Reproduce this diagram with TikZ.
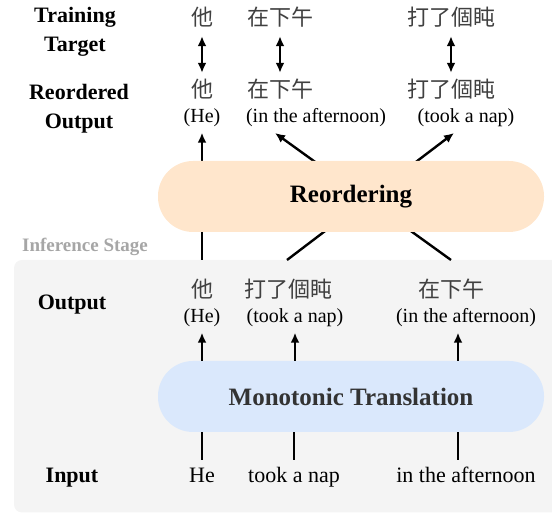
\documentclass[tikz,border=0pt]{standalone}
\usepackage{fontspec}
\setmainfont{Liberation Serif}
\newfontfamily\cjk{Noto Sans CJK TC}
\usepackage{tikz}
\usetikzlibrary{arrows.meta,positioning}
\definecolor{peach}{HTML}{FFE6CC}
\definecolor{skyblue}{HTML}{DAE8FC}
\definecolor{panel}{HTML}{F4F4F4}
\definecolor{stagegray}{HTML}{A6A6A6}
\definecolor{inkgray}{HTML}{333333}
\tikzset{
        rowlabel/.style = {font=\fontsize{22}{29}\selectfont\bfseries,
            align=center},
        zh/.style = {font=\fontsize{22}{26}\selectfont\cjk, text=black!75,
            text height=19pt, text depth=3pt, inner sep=2pt},
        gloss/.style = {font=\fontsize{20}{24}\selectfont,
            text height=14pt, text depth=5pt, inner sep=2pt},
        word/.style = {font=\fontsize{22}{26}\selectfont,
            text height=15pt, text depth=5pt, inner sep=2pt},
        stage/.style = {rectangle, rounded corners=35pt,
            minimum width=386pt,
            minimum height=71pt,
            font=\fontsize{25}{30}\selectfont\bfseries},
        arrow/.style = {draw, -{Latex[length=10pt,width=9pt]}, line width=2.4pt},
        dblarrow/.style = {draw, {Latex[length=10pt,width=9pt]}-{Latex[length=10pt,width=9pt]},
            line width=2.4pt},
        link/.style = {draw, line width=2.4pt},
    }

\begin{document}
\begin{tikzpicture}[x=1pt,y=1pt]
        \useasboundingbox (0,0) rectangle (552,513);

        % inference panel
        \fill[panel, rounded corners=8pt] (14,0.5) rectangle (580,253);
        \coordinate (gtop) at (0,253);
        \node[font=\fontsize{19}{22}\selectfont\bfseries, text=stagegray]
            (infer) at (85,266) {Inference Stage};

        % row labels
        \node[rowlabel] (train) at (75,481) {Training\\Target};
        \node[rowlabel] (reord) at (79,404) {Reordered\\Output};
        \node[rowlabel] (outlab) at (72,208) {Output};
        \node[rowlabel] (inlab) at (72,35) {Input};

        % training target
        \node[zh] (t1) at (202,495) {他};
        \node[zh] (t2) at (280,495) {在下午};
        \node[zh] (t3) at (451,495) {打了個盹};

        % reordered output
        \node[zh] (r1) at (202,423) {他};
        \node[zh] (r2) at (280,423) {在下午};
        \node[zh] (r3) at (451,423) {打了個盹};
        \node[gloss] (re1) at (202,395) {(He)};
        \node[gloss] (re2) at (316,395) {(in the afternoon)};
        \node[gloss] (re3) at (466,395) {(took a nap)};

        \draw[dblarrow, shorten <=5pt, shorten >=4pt] (t1) -- (r1);
        \draw[dblarrow, shorten <=5pt, shorten >=4pt] (t2) -- (r2);
        \draw[dblarrow, shorten <=5pt, shorten >=4pt] (t3) -- (r3);

        % monotonic output
        \node[zh] (o1) at (202,223) {他};
        \node[zh] (o2) at (288,223) {打了個盹};
        \node[zh] (o3) at (451,223) {在下午};
        \node[gloss] (oe1) at (202,195) {(He)};
        \node[gloss] (oe2) at (295,195) {(took a nap)};
        \node[gloss] (oe3) at (466,195) {(in the afternoon)};

        % input
        \node[word] (in1) at (202,35) {He};
        \node[word] (in2) at (294,35) {took a nap};
        \node[word] (in3) at (466,35) {in the afternoon};

        % translation block
        \node[stage, fill=skyblue, text=inkgray] (mt) at (351,116.5)
            {Monotonic Translation};
        \coordinate[left=8pt of oe3.south] (oe3s);
        \coordinate[left=8pt of in3.north] (in3n);

        \draw[link, shorten <=6pt] (in1.north) -- (in1.north |- mt.south);
        \draw[link, shorten <=6pt] (in2.north) -- (in2.north |- mt.south);
        \draw[link, shorten <=6pt] (in3n) -- (in3n |- mt.south);
        \draw[arrow, shorten >=3pt] (oe1.south |- mt.north) -- (oe1.south);
        \draw[arrow, shorten >=3pt] (oe2.south |- mt.north) -- (oe2.south);
        \draw[arrow, shorten >=3pt] (oe3s |- mt.north) -- (oe3s);

        % reordering links, partly hidden by the block
        \coordinate (napfoot) at (287,253);
        \coordinate (naphead) at (454,380);
        \coordinate (aftfoot) at (451,253);
        \coordinate (afthead) at (275,380);
        \draw[arrow, shorten >=3pt] (re1.south |- gtop) -- (re1.south);
        \draw[arrow] (napfoot) -- (naphead);
        \draw[arrow] (aftfoot) -- (afthead);

        \node[stage, fill=peach] (ro) at (351,316.5) {Reordering};
    \end{tikzpicture}
\end{document}
